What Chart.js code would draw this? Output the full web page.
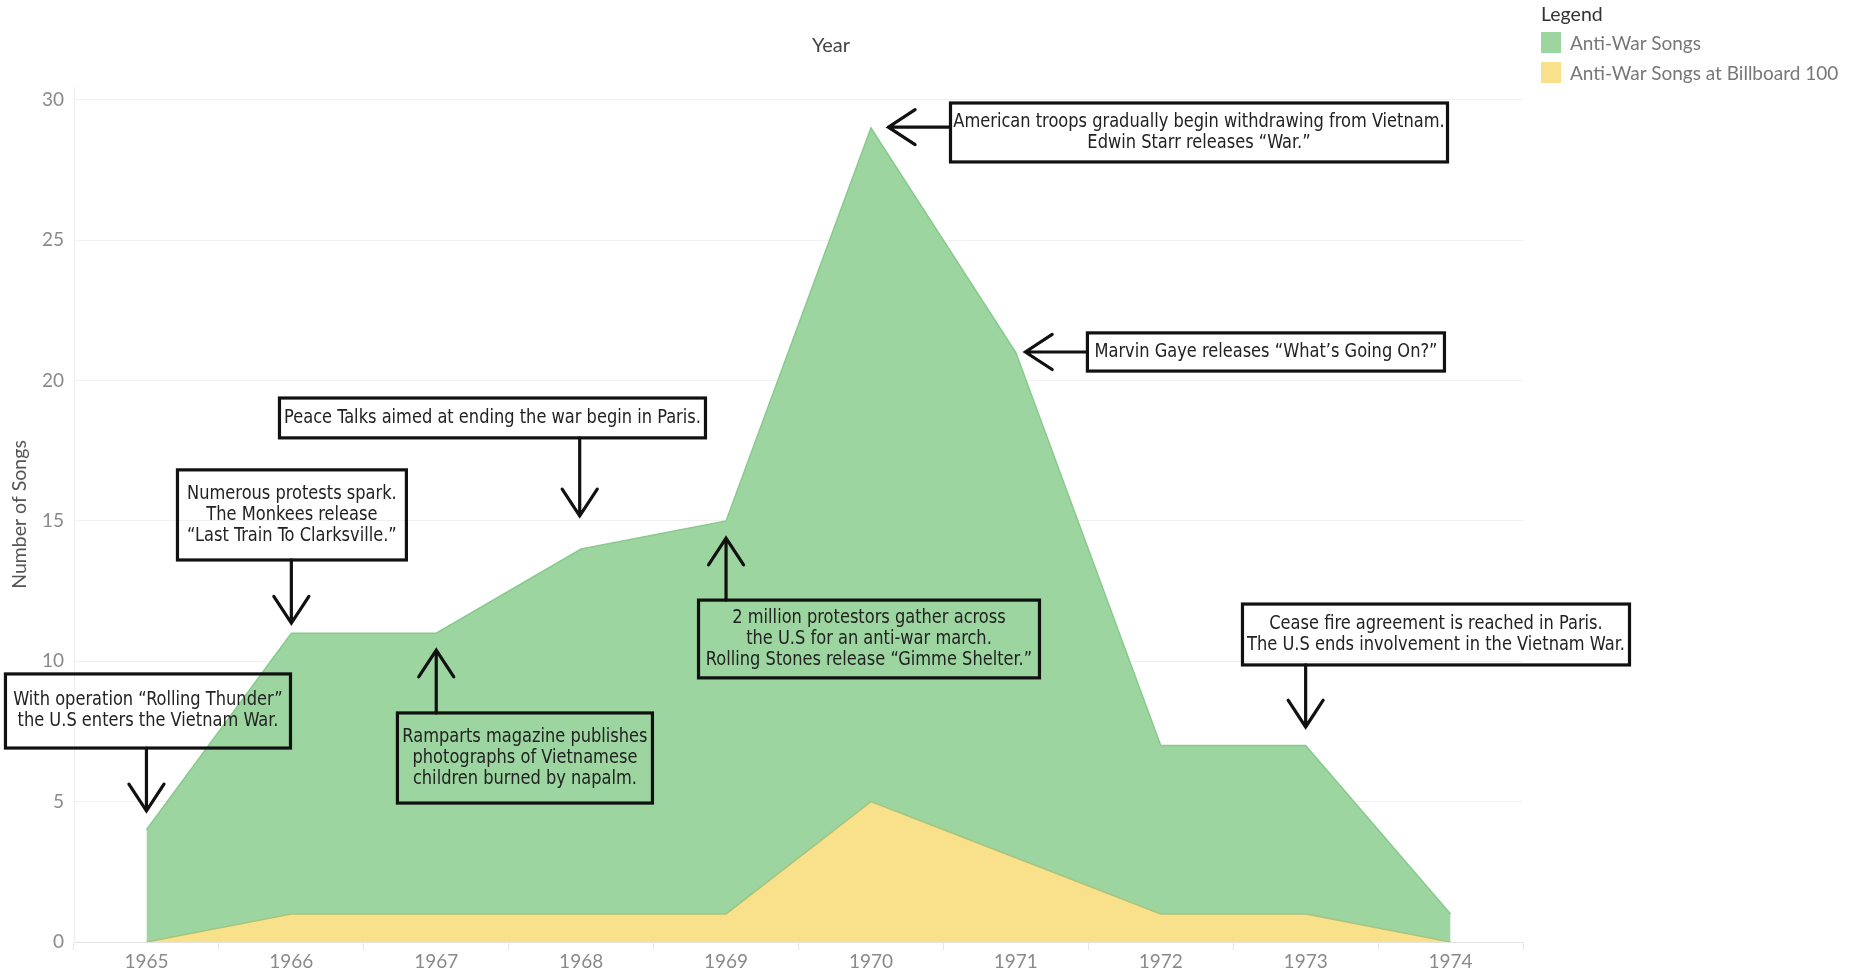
<!DOCTYPE html>
<html>
<head>
<meta charset="utf-8">
<script src="https://cdn.jsdelivr.net/npm/chart.js@4.4.1/dist/chart.umd.min.js"></script>
<style>
html,body{margin:0;padding:0;background:#fff;}
#wrap{position:relative;width:1860px;height:974px;}
#year{position:absolute;left:831px;top:44px;transform:translate(-50%,-50%);font:20px Lato,sans-serif;color:#444;}
#legend{position:absolute;left:1541px;top:1px;font:19px Lato,sans-serif;color:#777;}
#legend .ttl{color:#333;height:26px;line-height:26px;font-size:19.5px;}
#legend .row{display:flex;align-items:center;height:30px;}
#legend .sw{width:20px;height:21px;margin-right:9px;}
</style>
</head>
<body>
<div id="wrap">
<canvas id="songs" width="1860" height="974"></canvas>
<div id="year">Year</div>
<div id="legend"></div>
</div>
<script>

/* DATA */

const years=["1965","1966","1967","1968","1969","1970","1971","1972","1973","1974"];
const antiWarSongs=[4,11,11,14,15,29,21,7,7,1];
const billboardSongs=[0,1,1,1,1,5,3,1,1,0];
const yTicks=[0,5,10,15,20,25,30];

/* NOTES (box: x from, x to, y top, y bottom in data units; arrow: x0,y0 -> x1,y1) */

const notes=[
{lines:["With operation \u201cRolling Thunder\u201d","the U.S enters the Vietnam War."],box:[-0.973,0.994,9.55,6.91],arrow:[0,6.91,0,4.67]},
{lines:["Numerous protests spark.","The Monkees release","\u201cLast Train To Clarksville.\u201d"],box:[0.214,1.794,16.82,13.61],arrow:[1,13.61,1,11.36]},
{lines:["Peace Talks aimed at ending the war begin in Paris."],box:[0.918,3.858,19.38,17.96],arrow:[2.99,17.96,2.99,15.18]},
{lines:["Ramparts magazine publishes","photographs of Vietnamese","children burned by napalm."],box:[1.732,3.492,8.16,4.95],arrow:[2,8.16,2,10.4]},
{lines:["2 million protestors gather across","the U.S for an anti-war march.","Rolling Stones release \u201cGimme Shelter.\u201d"],box:[3.81,6.163,12.18,9.41],arrow:[4,12.18,4,14.39]},
{lines:["American troops gradually begin withdrawing from Vietnam.","Edwin Starr releases \u201cWar.\u201d"],box:[5.549,8.979,29.89,27.79],arrow:[5.549,29.03,5.12,29.03]},
{lines:["Marvin Gaye releases \u201cWhat\u2019s Going On?\u201d"],box:[6.494,8.958,21.7,20.34],arrow:[6.494,21.02,6.066,21.02]},
{lines:["Cease fire agreement is reached in Paris.","The U.S ends involvement in the Vietnam War."],box:[7.564,10.235,12.04,9.87],arrow:[8,9.87,8,7.66]}
];

const noteFont='19px "Liberation Sans Narrow", "DejaVu Sans Condensed", Roboto, sans-serif';

const notePlugin={
id:"notes",
afterDatasetsDraw(c){
const ctx=c.ctx, xs=c.scales.x, ys=c.scales.y;
ctx.save();
ctx.strokeStyle="#111";
ctx.fillStyle="#222";
ctx.lineWidth=3.2;
ctx.lineCap="round";
ctx.font=noteFont;
ctx.textAlign="center";
ctx.textBaseline="middle";
notes.forEach(n=>{
const x0=xs.getPixelForValue(n.box[0]), x1=xs.getPixelForValue(n.box[1]);
const y0=ys.getPixelForValue(n.box[2]), y1=ys.getPixelForValue(n.box[3]);
ctx.strokeRect(x0,y0,x1-x0,y1-y0);
const cx=(x0+x1)/2, cy=(y0+y1)/2, lh=21;
n.lines.forEach((t,i)=>{
ctx.save();
ctx.translate(cx,cy+(i-(n.lines.length-1)/2)*lh);
ctx.scale(0.95,1);
ctx.fillText(t,0,0);
ctx.restore();
});
const ax0=xs.getPixelForValue(n.arrow[0]), ay0=ys.getPixelForValue(n.arrow[1]);
const ax1=xs.getPixelForValue(n.arrow[2]), ay1=ys.getPixelForValue(n.arrow[3]);
const ang=Math.atan2(ay1-ay0,ax1-ax0), len=32, spread=0.58;
ctx.beginPath();
ctx.moveTo(ax0,ay0);
ctx.lineTo(ax1,ay1);
ctx.moveTo(ax1-len*Math.cos(ang-spread),ay1-len*Math.sin(ang-spread));
ctx.lineTo(ax1,ay1);
ctx.lineTo(ax1-len*Math.cos(ang+spread),ay1-len*Math.sin(ang+spread));
ctx.stroke();
});
ctx.restore();
}
};

const tickFont={family:"Lato",size:19};

const chart=new Chart(document.getElementById("songs"),{
type:"line",
data:{
labels:years,
datasets:[{
label:"Anti-War Songs",
data:antiWarSongs,
fill:"origin",
backgroundColor:"#9cd5a0",
borderColor:"#88ca8c",
borderWidth:1.5,
pointRadius:0,
order:2
},{
label:"Anti-War Songs at Billboard 100",
data:billboardSongs,
fill:"origin",
backgroundColor:"#f9e08a",
borderColor:"#a8c47c",
borderWidth:1.5,
pointRadius:0,
order:1
}]
},
options:{
responsive:false,
animation:false,
layout:{padding:{top:87,right:337,left:0,bottom:0}},
plugins:{legend:{display:false},tooltip:{enabled:false}},
scales:{
x:{
offset:true,
afterFit(s){s.height=32;},
grid:{drawOnChartArea:false,drawTicks:true,tickLength:8,color:"#e6e6e6",offset:true},
border:{color:"#e3e3e3"},
ticks:{color:"#8a8a8a",font:tickFont,padding:0,maxRotation:0}
},
y:{
min:0,
max:30.46,
afterFit(s){s.width=74;},
afterBuildTicks(s){s.ticks=yTicks.map(v=>({value:v}));},
grid:{color:"#f0f0f0",drawTicks:false},
border:{color:"#eeeeee"},
ticks:{color:"#8a8a8a",font:tickFont,padding:10},
title:{display:true,text:"Number of Songs",color:"#555",font:{family:"Lato",size:19.5},padding:{top:8,bottom:0}}
}
}
},
plugins:[notePlugin]
});

/* LEGEND */

const legend=document.getElementById("legend");
legend.innerHTML='<div class="ttl">Legend</div>';
chart.data.datasets.forEach(d=>{
const row=document.createElement("div");
row.className="row";
row.innerHTML=`<span class="sw" style="background:${d.backgroundColor}"></span><span>${d.label}</span>`;
legend.appendChild(row);
});

</script>
</body>
</html>
